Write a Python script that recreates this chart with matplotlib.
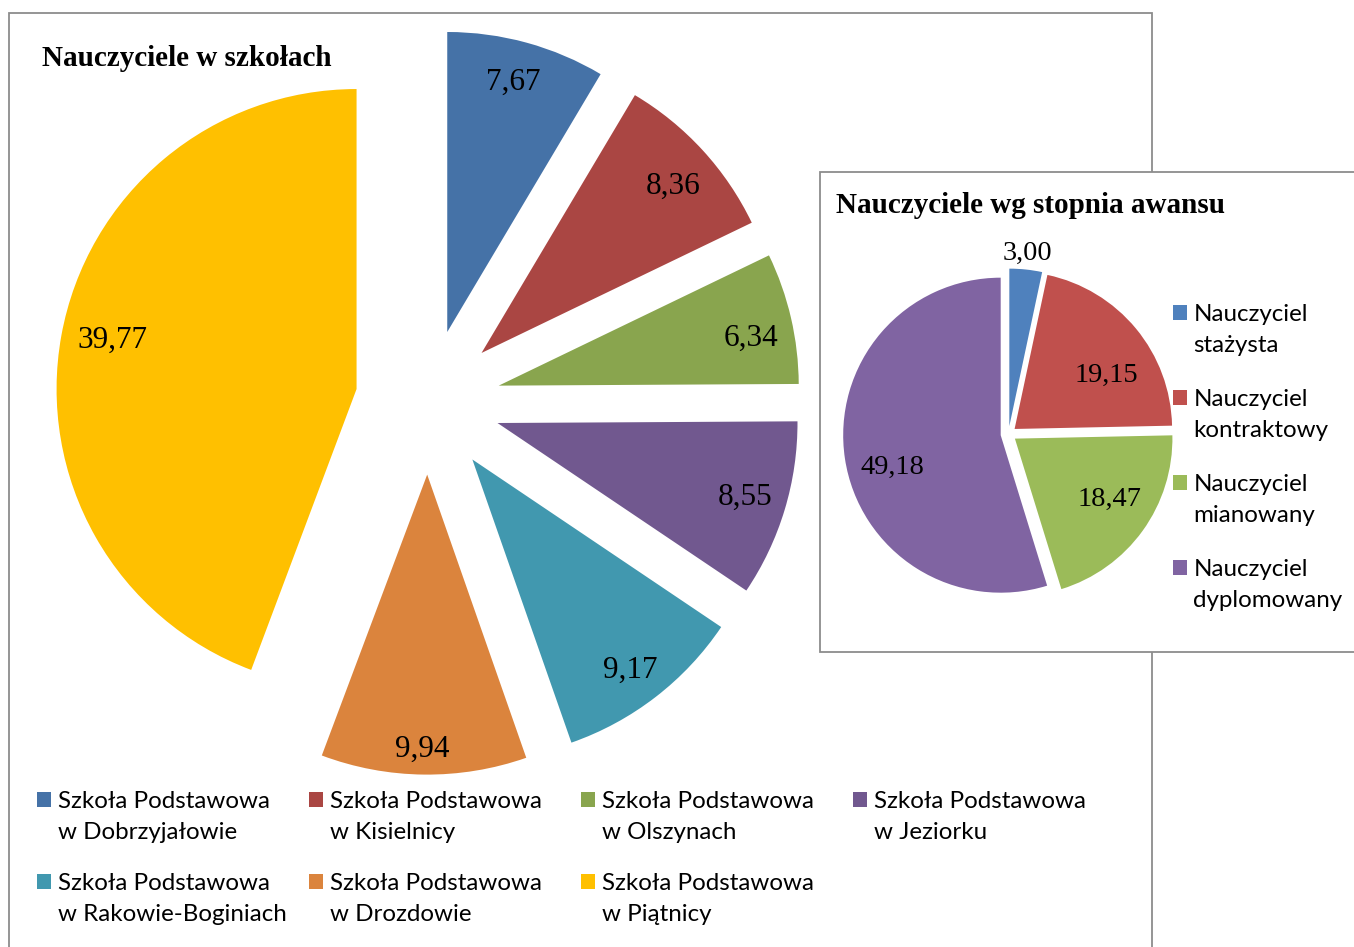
import numpy as np
import matplotlib
matplotlib.use("Agg")
import matplotlib.pyplot as plt
from matplotlib.patches import Rectangle

W, H = 1354, 947

# --- data ---
schools = [
    "Szkoła Podstawowa\nw Dobrzyjałowie",
    "Szkoła Podstawowa\nw Kisielnicy",
    "Szkoła Podstawowa\nw Olszynach",
    "Szkoła Podstawowa\nw Jeziorku",
    "Szkoła Podstawowa\nw Rakowie-Boginiach",
    "Szkoła Podstawowa\nw Drozdowie",
    "Szkoła Podstawowa\nw Piątnicy",
]
school_values = [7.67, 8.36, 6.34, 8.55, 9.17, 9.94, 39.77]
school_colors = ["#4572A7", "#AA4643", "#89A54E", "#71588F",
                 "#4198AF", "#DB843D", "#FFC000"]

levels = [
    "Nauczyciel\nstażysta",
    "Nauczyciel\nkontraktowy",
    "Nauczyciel\nmianowany",
    "Nauczyciel\ndyplomowany",
]
level_values = [3.00, 19.15, 18.47, 49.18]
level_colors = ["#4F81BD", "#C0504D", "#9BBB59", "#8064A2"]

SERIF = ["Liberation Serif", "DejaVu Serif"]
SANS = ["Lato", "DejaVu Sans"]


def iy(y):
    # image row -> data y
    return H - y


def fmt(v):
    return f"{v:.2f}".replace(".", ",")


def put_labels(wedges, values, dists, shifts, size, half_digit, z):
    for w, v, d, s in zip(wedges, values, dists, shifts):
        a = np.deg2rad((w.theta1 + w.theta2) / 2 + s)
        x = w.center[0] + d * w.r * np.cos(a)
        y = w.center[1] + d * w.r * np.sin(a)
        ax.text(x, y - half_digit, fmt(v), ha="center", va="baseline",
                fontsize=size, family=SERIF, zorder=z)


def legend_entry(x0, base1, lab, color, z=3):
    # square sits just above the first baseline
    ax.add_patch(Rectangle((x0, iy(base1 - 1)), 14.5, 14.5, facecolor=color,
                           linewidth=0, zorder=z))
    for k, line in enumerate(lab.split("\n")):
        ax.text(x0 + 21, iy(base1 + 31.5 * k), line, ha="left", va="baseline",
                fontsize=17.4, family=SANS, zorder=z)


fig = plt.figure(figsize=(W / 100, H / 100), dpi=100)
ax = fig.add_axes([0, 0, 1, 1])

# frames
ax.add_patch(Rectangle((9, -20), 1143, iy(13) + 20, facecolor="white",
                       edgecolor="#8c8c8c", linewidth=1.3, zorder=0))
ax.add_patch(Rectangle((820, iy(652)), 600, 652 - 172, facecolor="white",
                       edgecolor="#8c8c8c", linewidth=1.3, zorder=2))

# --- main pie ---
wedges, _ = ax.pie(school_values, colors=school_colors, startangle=90,
                   counterclock=False, explode=[72.6] * 7, radius=300,
                   center=(428, iy(402)), wedgeprops=dict(linewidth=0, zorder=1))
put_labels(wedges, school_values,
           [0.871, 0.852, 0.857, 0.859, 0.869, 0.908, 0.832],
           [0.8, -1.0, -1.9, 0.6, -0.5, -0.3, -1.6],
           22.5, 10.3, 4)

ax.text(42, iy(66), "Nauczyciele w szkołach", ha="left", va="baseline",
        fontsize=21, fontweight="bold", family=SERIF)

# main legend: 4 columns, 2 rows
col_x = [36.5, 308.5, 580.5, 852.5]
row_base = [807.5, 889.5]
for i, (lab, c) in enumerate(zip(schools, school_colors)):
    legend_entry(col_x[i % 4], row_base[i // 4], lab, c)

# --- second pie ---
wedges2, _ = ax.pie(level_values, colors=level_colors, startangle=90,
                    counterclock=False, explode=[7.9] * 4, radius=157.5,
                    center=(1008.5, iy(434)), wedgeprops=dict(linewidth=0, zorder=3))
put_labels(wedges2, level_values,
           [1.118, 0.683, 0.707, 0.714],
           [0.2, -7.9, 4.5, 6.5],
           20.5, 9.4, 5)

ax.text(836, iy(212.5), "Nauczyciele wg stopnia awansu", ha="left", va="baseline",
        fontsize=21, fontweight="bold", family=SERIF, zorder=5)

for i, (lab, c) in enumerate(zip(levels, level_colors)):
    legend_entry(1172.5, 320.5 + 85 * i, lab, c, z=5)

ax.set_xlim(0, W)
ax.set_ylim(0, H)
ax.set_aspect("auto")
ax.axis("off")

fig.savefig("out.png", dpi=100)
